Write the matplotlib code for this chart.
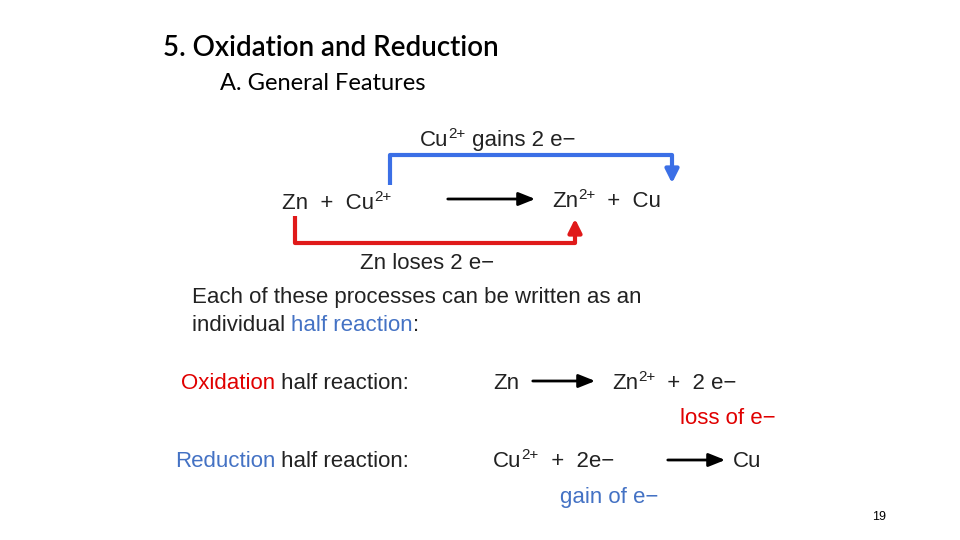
import matplotlib
matplotlib.use("Agg")
import matplotlib.pyplot as plt

BLUE_L = "#3b6fe6"; RED_L = "#e01a1a"; BLUE_T = "#4472c4"; RED_T = "#e00000"
title = "5. Oxidation and Reduction"
subtitle = "A. General Features"
page = "19"

fig = plt.figure(figsize=(9.6, 5.4), dpi=100)
ax = fig.add_axes([0, 0, 1, 1])
ax.set_xlim(0, 960); ax.set_ylim(540, 0); ax.axis("off")
F = "Liberation Sans"
FS = 16

def chain(x, y, parts, size=FS):
    prev = None
    for p in parts:
        s, c = p[0], p[1]
        sup = len(p) > 2 and p[2]
        fs = size * 0.68 if sup else size
        dy = size * 0.45 if sup else 0
        if prev is None:
            prev = ax.text(x, y, s, color=c, fontsize=fs, family=F, va="baseline", ha="left")
        else:
            prev = ax.annotate(s, xy=(1, 0), xycoords=prev, xytext=(0, dy), textcoords="offset points",
                               color=c, fontsize=fs, family=F, va="bottom", ha="left")
            if sup:
                prev = ax.annotate("", xy=(1, 0), xycoords=prev, xytext=(0, -dy), textcoords="offset points",
                                   fontsize=fs, family=F, va="bottom", ha="left")

ax.text(163, 56, title, fontsize=20, family="Lato", weight="semibold", va="baseline")
ax.text(220, 90, subtitle, fontsize=17, family="Lato", va="baseline")

chain(420, 146, [("Cu", "#222"), ("2+", "#222", True), (" gains 2 e\u2212", "#222")])
chain(282, 209, [("Zn  +  Cu", "#222"), ("2+", "#222", True)])
chain(552, 207, [("Zn", "#222"), ("2+", "#222", True), ("  +  Cu", "#222")])
chain(360, 269, [("Zn loses 2 e\u2212", "#222")])
chain(192, 303, [("Each of these processes can be written as an", "#222")])
chain(192, 331, [("individual ", "#222"), ("half reaction", BLUE_T), (":", "#222")])
chain(181, 389, [("Oxidation", RED_T), (" half reaction:", "#222")])
chain(493, 389, [("Zn", "#222")])
chain(612, 389, [("Zn", "#222"), ("2+", "#222", True), ("  +  2 e\u2212", "#222")])
chain(680, 424, [("loss of e\u2212", RED_T)])
chain(175, 467, [("Reduction", BLUE_T), (" half reaction:", "#222")])
chain(493, 467, [("Cu", "#222"), ("2+", "#222", True), ("  +  2e\u2212", "#222")])
chain(733, 467, [("Cu", "#222")])
chain(560, 503, [("gain of e\u2212", BLUE_T)])
ax.text(872, 520, page, fontsize=9, family=F, va="baseline")

for x0, x1, y in [(445, 538, 199), (530, 598, 381), (665, 728, 460)]:
    ax.annotate("", xy=(x1, y), xytext=(x0, y),
                arrowprops=dict(arrowstyle="-|>,head_length=1.0,head_width=0.4", color="black", lw=2))

ax.plot([390, 390, 672, 672], [185, 155, 155, 170], color=BLUE_L, lw=3, solid_capstyle="butt")
ax.annotate("", xy=(672, 186), xytext=(672, 165),
            arrowprops=dict(arrowstyle="-|>,head_length=0.8,head_width=0.4", color=BLUE_L, lw=3))
ax.plot([295, 295, 575, 575], [216, 243, 243, 230], color=RED_L, lw=3, solid_capstyle="butt")
ax.annotate("", xy=(575, 216), xytext=(575, 236),
            arrowprops=dict(arrowstyle="-|>,head_length=0.8,head_width=0.4", color=RED_L, lw=3))

fig.savefig("out.png", dpi=100)
